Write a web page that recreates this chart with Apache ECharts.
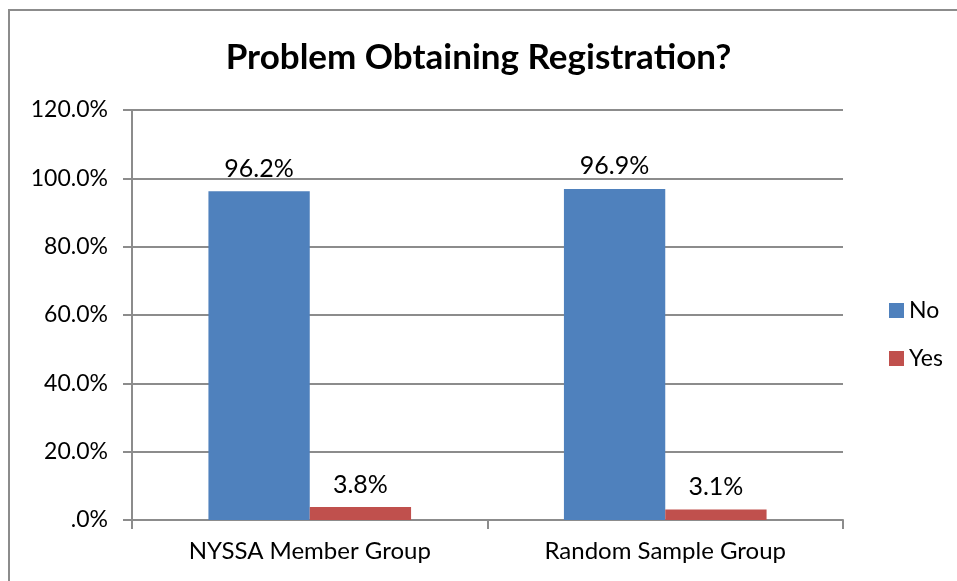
<!DOCTYPE html>
<html lang="en">
<head>
  <meta charset="UTF-8">
  <title>Problem Obtaining Registration?</title>
  <script src="https://cdn.jsdelivr.net/npm/echarts@6/dist/echarts.min.js"></script>
  <style>
    html, body { margin: 0; padding: 0; background: #fff; }
    #chart { width: 957px; height: 581px; }
  </style>
</head>
<body>
  <div id="chart"></div>
  <script type="text/javascript">
    // data
    var groups = ['NYSSA Member Group', 'Random Sample Group'];
    var noValues = [96.2, 96.9];
    var yesValues = [3.8, 3.1];
    var seriesNames = ['No', 'Yes'];

    var font = 'Lato, sans-serif';

    var myChart = echarts.init(document.getElementById('chart'));
    var option = {
      animation: false,
      textStyle: { fontFamily: font },
      title: {
        text: 'Problem Obtaining Registration?',
        left: 'center',
        top: 35,
        textStyle: { fontSize: 35, fontWeight: 'bold', color: '#000', fontFamily: font }
      },
      // outer frame
      graphic: [{
        type: 'rect',
        silent: true,
        shape: { x: 9, y: 10, width: 980, height: 620 },
        style: { fill: 'none', stroke: '#8c8c8c', lineWidth: 2 }
      }],
      legend: {
        orient: 'vertical',
        left: 884,
        top: 294,
        itemWidth: 15,
        itemHeight: 15,
        itemGap: 25,
        icon: 'rect',
        textStyle: { fontSize: 23, color: '#000', fontFamily: font },
        data: seriesNames
      },
      grid: { left: 132, right: 114, top: 110, bottom: 61 },
      xAxis: {
        type: 'category',
        data: groups,
        axisLine: { lineStyle: { color: '#8c8c8c', width: 2 } },
        axisTick: { show: true, length: 9, lineStyle: { color: '#8c8c8c', width: 2 } },
        axisLabel: { fontSize: 24, color: '#000', margin: 19 }
      },
      yAxis: {
        type: 'value',
        min: 0,
        max: 120,
        interval: 20,
        axisLine: { show: true, lineStyle: { color: '#8c8c8c', width: 2 } },
        axisTick: { show: true, length: 9, lineStyle: { color: '#8c8c8c', width: 2 } },
        splitLine: { lineStyle: { color: '#8c8c8c', width: 2 } },
        axisLabel: {
          fontSize: 23,
          color: '#000',
          margin: 24,
          formatter: function (v) {
            return v === 0 ? '.0%' : v.toFixed(1) + '%';
          }
        }
      },
      series: [
        {
          name: seriesNames[0],
          type: 'bar',
          data: noValues,
          barGap: '0%',
          barCategoryGap: '43%',
          itemStyle: { color: '#4F81BD' },
          label: {
            show: true, position: 'top', distance: 10, fontSize: 25, color: '#000',
            formatter: function (p) { return p.value.toFixed(1) + '%'; }
          }
        },
        {
          name: seriesNames[1],
          type: 'bar',
          data: yesValues,
          barGap: '0%',
          barCategoryGap: '43%',
          itemStyle: { color: '#C0504D' },
          label: {
            show: true, position: 'top', distance: 10, fontSize: 25, color: '#000',
            formatter: function (p) { return p.value.toFixed(1) + '%'; }
          }
        }
      ]
    };
    option && myChart.setOption(option);
  </script>
</body>
</html>
